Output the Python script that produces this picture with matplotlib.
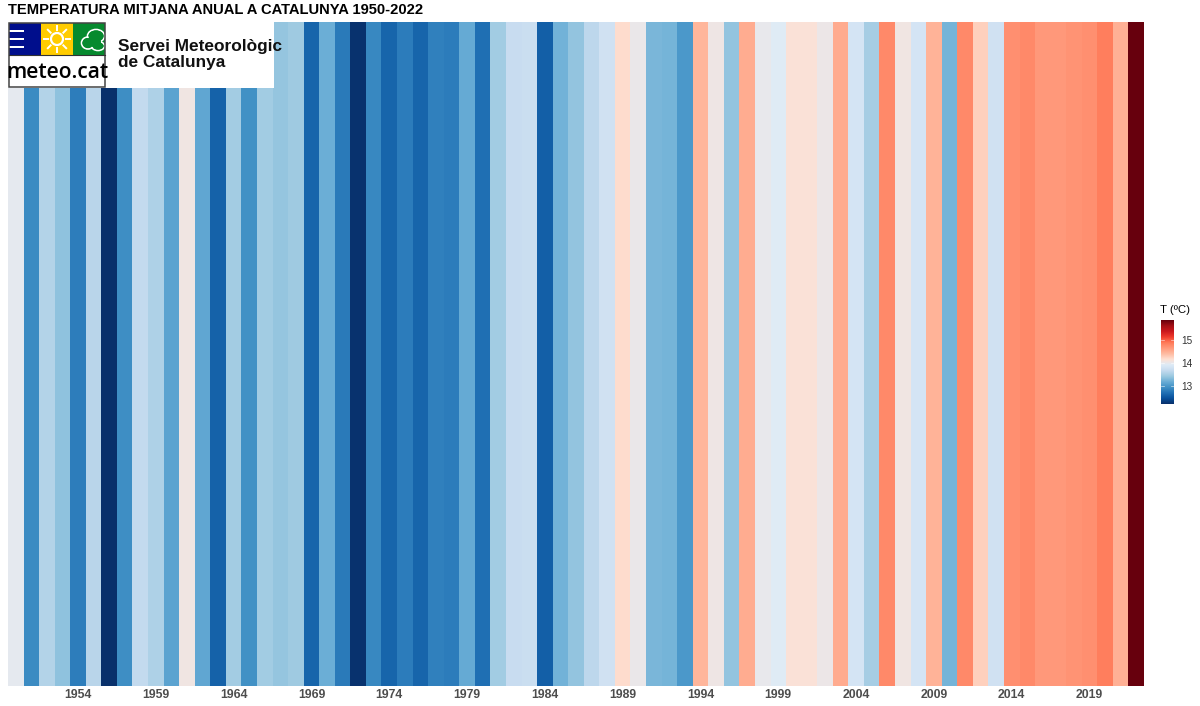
import numpy as np
import matplotlib
matplotlib.use("Agg")
import matplotlib.pyplot as plt
from matplotlib.colors import LinearSegmentedColormap
from matplotlib.patches import Rectangle, Circle, Ellipse

plt.rcParams['font.family'] = ['Liberation Sans', 'DejaVu Sans']

years = list(range(1950, 2023))
temps = [13.98, 12.89, 13.56, 13.36, 12.79, 13.60, 12.20, 12.91, 13.66, 13.53,
         13.09, 14.07, 13.12, 12.58, 13.47, 12.93, 13.46, 13.39, 13.44, 12.60,
         13.19, 12.76, 12.22, 12.87, 12.60, 12.78, 12.60, 12.81, 12.78, 13.15,
         12.68, 13.46, 13.70, 13.72, 12.56, 13.22, 13.38, 13.63, 13.78, 14.20,
         14.02, 13.26, 13.24, 13.00, 14.46, 14.05, 13.38, 14.53, 14.00, 13.94,
         14.14, 14.14, 14.03, 14.54, 13.82, 13.48, 14.80, 14.07, 13.82, 14.48,
         13.24, 14.80, 14.28, 13.78, 14.75, 14.80, 14.68, 14.68, 14.72, 14.75,
         14.88, 14.50, 15.90]
tick_years = list(range(1954, 2020, 5))
stripe_colors = ['#08306b', '#08519c', '#2171b5', '#4292c6', '#6baed6', '#9ecae1',
                 '#c6dbef', '#deebf7', '#fee0d2', '#ffbba1', '#ff9a7c', '#ff7a58',
                 '#ef3b2c', '#cb181d', '#a50f15', '#67000d']
legend_ticks = [13, 14, 15]

cmap = LinearSegmentedColormap.from_list('stripes', stripe_colors, N=512)
tmin, tmax = 12.2, 15.9

fig = plt.figure(figsize=(12, 7.06), dpi=100)
W, H = 1200.0, 706.0

def px_axes(x0, y0, x1, y1, **kw):
    # axes from pixel box, y measured from the top
    return fig.add_axes([x0 / W, 1 - y1 / H, (x1 - x0) / W, (y1 - y0) / H], **kw)

ax = px_axes(8, 22, 1144, 686)
edges = np.arange(len(years) + 1) + years[0] - 0.5
ax.pcolormesh(edges, [0, 1], np.array(temps).reshape(1, -1), cmap=cmap, vmin=tmin, vmax=tmax)
ax.set_xlim(edges[0], edges[-1])
ax.set_ylim(0, 1)
ax.set_yticks([])
ax.set_xticks(tick_years)
ax.set_xticklabels([str(y) for y in tick_years], fontsize=8.8, fontweight='bold', color='#4d4d4d')
ax.tick_params(axis='x', length=0, pad=2)
for s in ax.spines.values():
    s.set_visible(False)

fig.text(8 / W, 1 - 10 / H, 'TEMPERATURA MITJANA ANUAL A CATALUNYA 1950-2022',
         fontsize=10.6, fontweight='bold', color='black', va='center', ha='left')

# logo block, coordinates in pixels
logo = px_axes(8, 22, 274, 88)
logo.set_xlim(8, 274)
logo.set_ylim(88, 22)
logo.axis('off')
logo.add_patch(Rectangle((8, 22), 266, 66, fc='white', ec='none'))
logo.add_patch(Rectangle((9, 23), 32, 32, fc='#000e8c', ec='none'))
logo.add_patch(Rectangle((41, 23), 32, 32, fc='#ffcc00', ec='none'))
logo.add_patch(Rectangle((73, 23), 32, 32, fc='#068a2e', ec='none'))
for yb in (30, 38, 46):
    logo.add_patch(Rectangle((9, yb), 15, 2.4, fc='white', ec='none'))
logo.add_patch(Circle((57, 39), 6, fc='#ffcc00', ec='white', lw=1.6))
for a in np.arange(0, 360, 45):
    c, s = np.cos(np.radians(a)), np.sin(np.radians(a))
    logo.plot([57 + 9 * c, 57 + 13 * c], [39 + 9 * s, 39 + 13 * s], color='white', lw=1.4)
for (cx, cy, w, h) in [(96, 36, 17, 13), (88, 43, 13, 12), (98, 46, 13, 9)]:
    logo.add_patch(Ellipse((cx, cy), w, h, fc='none', ec='white', lw=1.2))
for (cx, cy, w, h) in [(96, 36, 15, 11), (88, 43, 11, 10), (98, 46, 11, 7), (94, 42, 14, 10)]:
    logo.add_patch(Ellipse((cx, cy), w, h, fc='#068a2e', ec='none'))
logo.add_patch(Rectangle((105, 23), 0.1, 32, fc='white', ec='none'))
logo.add_patch(Rectangle((8.5, 23), 96.5, 64, fc='none', ec='#444444', lw=1.1))
logo.plot([9, 105], [55, 55], color='#333333', lw=0.8)
logo.text(57, 72, 'meteo.cat', fontsize=15.2, color='black', family=['Open Sans', 'DejaVu Sans'],
          fontweight='semibold', ha='center', va='center')
logo.text(118, 46, 'Servei Meteorològic', fontsize=12.4, fontweight='bold', color='#111111', va='center', ha='left')
logo.text(118, 62, 'de Catalunya', fontsize=12.4, fontweight='bold', color='#111111', va='center', ha='left')

# legend
cax = px_axes(1161, 320, 1174, 404)
grad = np.linspace(tmin, tmax, 300).reshape(-1, 1)
cax.imshow(grad, origin='lower', aspect='auto', cmap=cmap, vmin=tmin, vmax=tmax,
           extent=[0, 1, tmin, tmax])
cax.set_xticks([])
cax.yaxis.tick_right()
cax.set_yticks(legend_ticks)
cax.set_yticklabels([str(t) for t in legend_ticks], fontsize=7.2, color='#333333')
cax.tick_params(axis='y', length=0, pad=5)
for t in legend_ticks:
    cax.plot([0, 0.2], [t, t], color='white', lw=0.5, alpha=0.7)
    cax.plot([0.8, 1], [t, t], color='white', lw=0.5, alpha=0.7)
cax.set_xlim(0, 1)
cax.set_ylim(tmin, tmax)
for s in cax.spines.values():
    s.set_visible(False)
fig.text(1160 / W, 1 - 310 / H, 'T (ºC)', fontsize=8.2, color='black', va='center', ha='left')

fig.savefig('out.png', dpi=100)
